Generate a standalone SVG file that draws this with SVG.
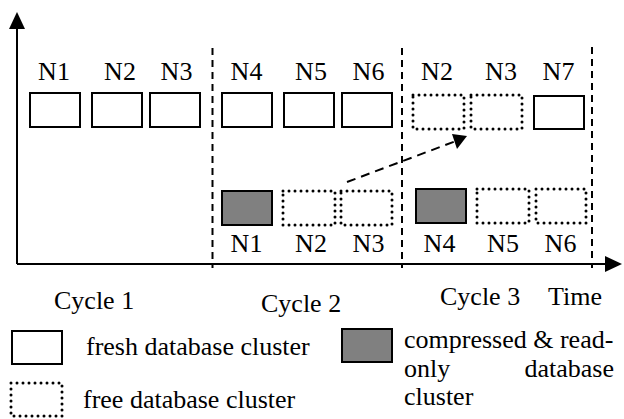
<svg xmlns="http://www.w3.org/2000/svg" width="624" height="419" viewBox="0 0 624 419">
<defs>
<style>
text{font-family:'Liberation Serif','Tinos','Times New Roman','DejaVu Serif',serif;font-size:26px;fill:#000}
.lbl{text-anchor:middle}
.fresh{fill:#fff;stroke:#000;stroke-width:2}
.comp{fill:#808080;stroke:#000;stroke-width:2}
.free{fill:none;stroke:#000;stroke-width:3;stroke-dasharray:0 6;stroke-linecap:round}
.axis{stroke:#000;stroke-width:2;fill:none}
.sep{stroke:#000;stroke-width:2;stroke-dasharray:7 5;fill:none}
.flow{stroke:#000;stroke-width:2;stroke-dasharray:9 6;fill:none}
</style>
</defs>
<rect width="624" height="419" fill="#fff"/>
<g id="connectors">
<line class="axis" x1="17" y1="264" x2="17" y2="26"/>
<path d="M17,12 L25,29 L9,29 z" fill="#000"/>
<line class="axis" x1="17" y1="264" x2="606" y2="264"/>
<path d="M622,264 L605,256 L605,272 z" fill="#000"/>
<line class="sep" x1="212.5" y1="48" x2="212.5" y2="268"/>
<line class="sep" x1="402" y1="48" x2="402" y2="268"/>
<line class="sep" x1="592" y1="47" x2="592" y2="268"/>
<line class="flow" x1="347" y1="182" x2="456" y2="141"/>
<path d="M467,136 L452,134 L457,149 z" fill="#000"/>
</g>
<g id="c1-n1"><rect class="fresh" x="30" y="93" width="50" height="34"/><text class="lbl" x="54" y="80">N1</text></g>
<g id="c1-n2"><rect class="fresh" x="92" y="93" width="50" height="34"/><text class="lbl" x="120" y="80">N2</text></g>
<g id="c1-n3"><rect class="fresh" x="150" y="93" width="50" height="34"/><text class="lbl" x="176.5" y="80">N3</text></g>
<g id="c2-n4"><rect class="fresh" x="222" y="93" width="50" height="34"/><text class="lbl" x="246.5" y="80">N4</text></g>
<g id="c2-n5"><rect class="fresh" x="284" y="93" width="50" height="34"/><text class="lbl" x="311" y="80">N5</text></g>
<g id="c2-n6"><rect class="fresh" x="342" y="93" width="50" height="34"/><text class="lbl" x="368.5" y="80">N6</text></g>
<g id="c3-n2"><rect class="free" x="413" y="95" width="51" height="34"/><text class="lbl" x="437" y="80">N2</text></g>
<g id="c3-n3"><rect class="free" x="471" y="95" width="51" height="34"/><text class="lbl" x="501" y="80">N3</text></g>
<g id="c3-n7"><rect class="fresh" x="534" y="96" width="50" height="33"/><text class="lbl" x="558.5" y="80">N7</text></g>
<g id="c2-b-n1"><rect class="comp" x="222" y="191" width="50" height="34"/><text class="lbl" x="246.5" y="252">N1</text></g>
<g id="c2-b-n2"><rect class="free" x="283" y="191" width="52" height="34"/><text class="lbl" x="311" y="252">N2</text></g>
<g id="c2-b-n3"><rect class="free" x="341" y="191" width="51" height="34"/><text class="lbl" x="368.5" y="252">N3</text></g>
<g id="c3-b-n4"><rect class="comp" x="416" y="189" width="50" height="34"/><text class="lbl" x="439.5" y="252">N4</text></g>
<g id="c3-b-n5"><rect class="free" x="477" y="189" width="52" height="34"/><text class="lbl" x="503" y="252">N5</text></g>
<g id="c3-b-n6"><rect class="free" x="536" y="189" width="50" height="34"/><text class="lbl" x="560.5" y="252">N6</text></g>
<g id="axis-labels">
<text x="54" y="309">Cycle 1</text>
<text x="261" y="312">Cycle 2</text>
<text x="440" y="305">Cycle 3</text>
<text x="548" y="305">Time</text>
</g>
<g id="legend">
<rect class="fresh" x="12" y="331" width="50" height="33"/>
<text x="86" y="355">fresh database cluster</text>
<rect class="free" x="11" y="383" width="51" height="33"/>
<text x="83" y="408">free database cluster</text>
<rect class="comp" x="342" y="329" width="50" height="33"/>
<text x="404" y="348">compressed &amp; read-</text>
<text x="404" y="377">only</text>
<text x="614" y="377" text-anchor="end">database</text>
<text x="404" y="405">cluster</text>
</g>
</svg>
